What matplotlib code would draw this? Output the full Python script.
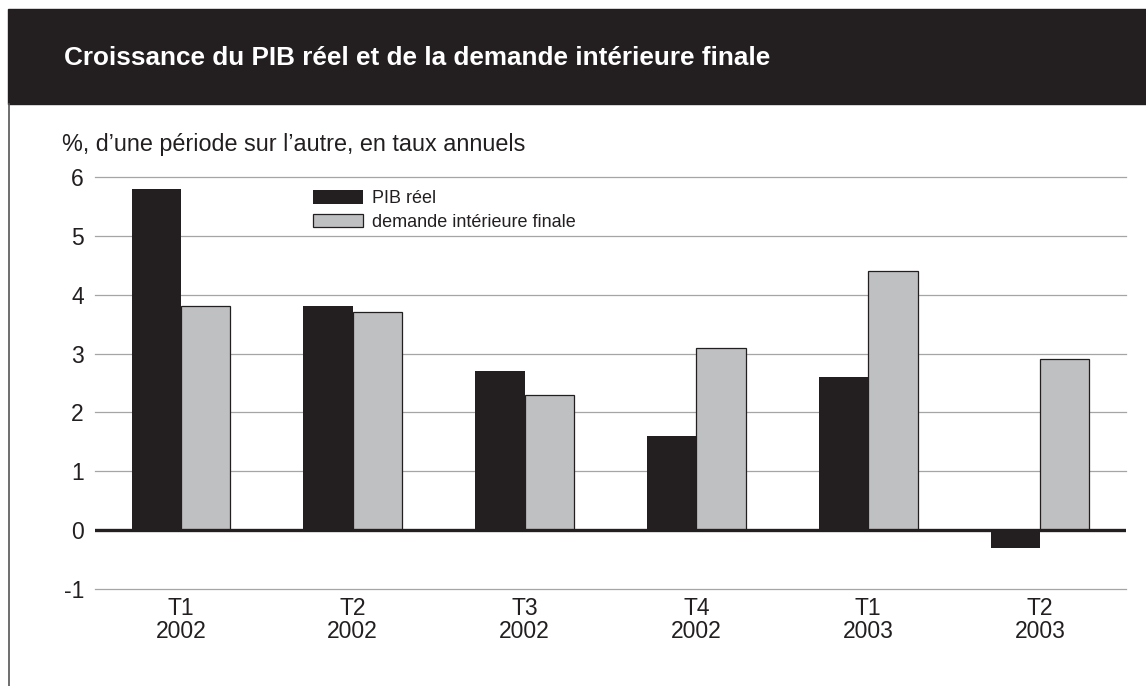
import numpy as np
import matplotlib.pyplot as plt
from matplotlib.patches import Rectangle
from matplotlib.lines import Line2D

quarters = ['T1\n2002', 'T2\n2002', 'T3\n2002', 'T4\n2002', 'T1\n2003', 'T2\n2003']
pib_reel = [5.8, 3.8, 2.7, 1.6, 2.6, -0.3]
demande_finale = [3.8, 3.7, 2.3, 3.1, 4.4, 2.9]
y_ticks = [-1, 0, 1, 2, 3, 4, 5, 6]

dark = '#231f20'
grey = '#bfc0c2'
plt.rcParams['font.family'] = ['Liberation Sans', 'DejaVu Sans']

fig = plt.figure(figsize=(11.46, 6.86), dpi=100)

# dark title band and the left frame line
fig.patches.append(Rectangle((8 / 1146, 1 - 104 / 686), 1, 95 / 686,
                             transform=fig.transFigure, color=dark, zorder=0))
fig.lines.append(Line2D([9 / 1146, 9 / 1146], [0, 1 - 104 / 686],
                        transform=fig.transFigure, color='#555555', lw=1.2))
fig.text(64 / 1146, 1 - 58 / 686, 'Croissance du PIB réel et de la demande intérieure finale',
         color='white', fontsize=18.8, fontweight='bold', va='center', ha='left')
fig.text(62 / 1146, 1 - 144 / 686, '%, d\u2019une période sur l\u2019autre, en taux annuels',
         color=dark, fontsize=16.8, va='center', ha='left')

ax = fig.add_axes([95 / 1146, 1 - 589 / 686, 1031 / 1146, 412 / 686])
x = np.arange(len(quarters))
w = 0.287
ax.bar(x - w / 2, pib_reel, w, color=dark, edgecolor='none', zorder=2, label='PIB réel')
ax.bar(x + w / 2, demande_finale, w, color=grey, edgecolor=dark, linewidth=0.9,
       zorder=2, label='demande intérieure finale')

ax.set_xlim(-0.5, len(quarters) - 0.5)
ax.set_ylim(-1, 6)
ax.set_yticks(y_ticks)
ax.set_yticklabels([str(v) for v in y_ticks])
ax.set_xticks(x)
ax.set_xticklabels(quarters, linespacing=1.0)
for v in y_ticks:
    if v != 0:
        ax.axhline(v, color='#a5a5a5', lw=0.9, zorder=1, clip_on=False)
ax.axhline(0, color=dark, lw=2.4, zorder=3)

for s in ax.spines.values():
    s.set_visible(False)
ax.tick_params(axis='both', length=0, labelcolor=dark)
ax.tick_params(axis='y', pad=8, labelsize=16.5)
ax.tick_params(axis='x', pad=6, labelsize=16.5)

ax.legend(loc='upper left', bbox_to_anchor=(297 / 1146, 1 - 174 / 686),
          bbox_transform=fig.transFigure, frameon=False, fontsize=13,
          handlelength=2.78, handleheight=0.78, handletextpad=0.5,
          labelspacing=0.35, labelcolor=dark)

fig.savefig('out.png', dpi=100)
